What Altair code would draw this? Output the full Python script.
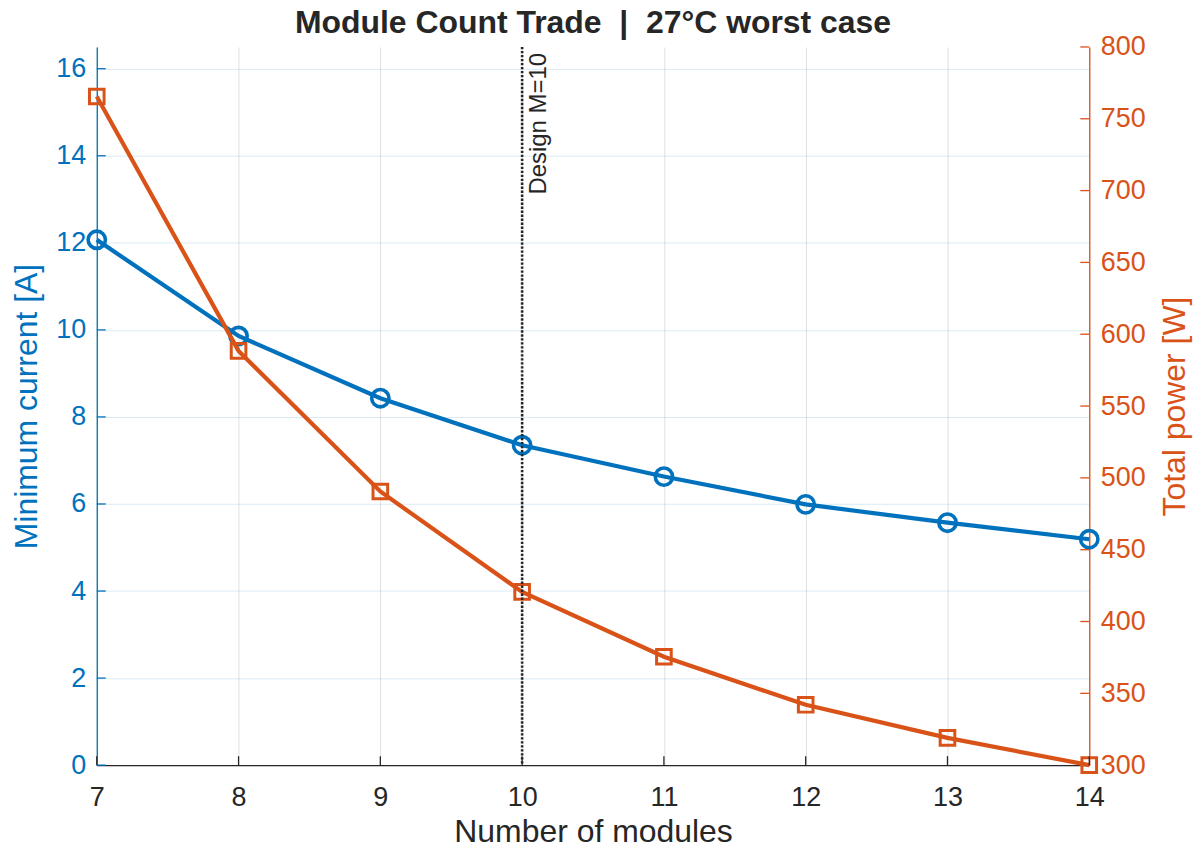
import altair as alt
import pandas as pd

# ---- data ----
modules = [7, 8, 9, 10, 11, 12, 13, 14]
min_current = [12.07, 9.86, 8.43, 7.35, 6.63, 5.99, 5.57, 5.19]
total_power = [765.5, 588.4, 490.5, 420.6, 375.5, 342.0, 319.0, 300.0]
x_ticks = [7, 8, 9, 10, 11, 12, 13, 14]
left_ticks = [0, 2, 4, 6, 8, 10, 12, 14, 16]
right_ticks = [300, 350, 400, 450, 500, 550, 600, 650, 700, 750, 800]
design_m = [10]
design_label = ["Design M=10"]

BLUE = "#0072BD"
ORANGE = "#D95319"
DARK = "#262626"
FONT = "Liberation Sans"
W, H = 995, 720
TICK = 9

df = pd.DataFrame({"M": modules, "I": min_current, "P": total_power})
xt_df = pd.DataFrame({"M": x_ticks})
lt_df = pd.DataFrame({"I": left_ticks})
rt_df = pd.DataFrame({"P": right_ticks})
dz_df = pd.DataFrame({"M": design_m, "label": design_label})

xscale = alt.Scale(domain=[7, 14], nice=False, zero=False)
lscale = alt.Scale(domain=[0, 16.5], nice=False, zero=False)
rscale = alt.Scale(domain=[300, 800], nice=False, zero=False)

xaxis = alt.Axis(
    values=x_ticks, title="Number of modules", format="d",
    grid=True, gridColor=DARK, gridOpacity=0.15, gridWidth=1,
    domainColor=DARK, domainWidth=1.3, ticks=False, tickSize=0,
    labelColor=DARK, labelFontSize=27, labelFont=FONT, labelPadding=19,
    labelFlush=False, labelOverlap=False,
    titleColor=DARK, titleFontSize=32, titleFont=FONT, titleFontWeight="normal",
    titlePadding=7,
)
laxis = alt.Axis(
    orient="left", values=left_ticks, title="Minimum current [A]", format="d",
    grid=True, gridColor=BLUE, gridOpacity=0.15, gridWidth=1,
    domainColor=BLUE, domainWidth=1.3, ticks=False, tickSize=0,
    labelColor=BLUE, labelFontSize=27, labelFont=FONT, labelPadding=11,
    labelFlush=False, labelOverlap=False,
    titleColor=BLUE, titleFontSize=32, titleFont=FONT, titleFontWeight="normal",
    titlePadding=12,
)
raxis = alt.Axis(
    orient="right", values=right_ticks, title="Total power [W]", format="d",
    grid=False,
    domainColor=ORANGE, domainWidth=1.3, ticks=False, tickSize=0,
    labelColor=ORANGE, labelFontSize=27, labelFont=FONT, labelPadding=11,
    labelFlush=False, labelOverlap=False,
    titleColor=ORANGE, titleFontSize=32, titleFont=FONT, titleFontWeight="normal",
    titleAngle=270, titleBaseline="top", titlePadding=14,
)

X = alt.X("M:Q", scale=xscale, axis=xaxis)
YL = alt.Y("I:Q", scale=lscale, axis=laxis)
YR = alt.Y("P:Q", scale=rscale, axis=raxis)

blue_line = alt.Chart(df).mark_line(color=BLUE, strokeWidth=4.2).encode(x=X, y=YL)
blue_pts = alt.Chart(df).mark_point(
    shape="circle", filled=False, size=300, strokeWidth=3.6, color=BLUE, opacity=1
).encode(x=X, y=YL)
left_tick_rules = alt.Chart(lt_df).mark_rule(color=BLUE, strokeWidth=1.3).encode(
    x=alt.value(0), x2=alt.value(TICK), y=YL
)
left = alt.layer(blue_line, blue_pts, left_tick_rules)

orange_line = alt.Chart(df).mark_line(color=ORANGE, strokeWidth=4.2).encode(x=X, y=YR)
orange_pts = alt.Chart(df).mark_point(
    shape="square", filled=False, size=215, strokeWidth=3, color=ORANGE, opacity=1
).encode(x=X, y=YR)
right_tick_rules = alt.Chart(rt_df).mark_rule(color=ORANGE, strokeWidth=1.3).encode(
    x=alt.value(W), x2=alt.value(W - TICK), y=YR
)
right = alt.layer(orange_line, orange_pts, right_tick_rules)

x_tick_rules = alt.Chart(xt_df).mark_rule(color=DARK, strokeWidth=1.3).encode(
    x=X, y=alt.value(H), y2=alt.value(H - TICK)
)
design_rule = alt.Chart(dz_df).mark_rule(
    color=DARK, strokeWidth=2.6, strokeDash=[2.4, 1.6]
).encode(x=X)
design_text = alt.Chart(dz_df).mark_text(
    angle=270, align="right", baseline="top", fontSize=24, font=FONT,
    color=DARK, dy=5
).encode(x=X, y=alt.value(6), text="label:N")
overlay = alt.layer(x_tick_rules, design_rule, design_text)

chart = (
    alt.layer(left, right, overlay)
    .resolve_scale(y="independent")
    .properties(
        width=W,
        height=H,
        title=alt.TitleParams(
            text="Module Count Trade \u00a0|\u00a0 27°C worst case",
            fontSize=32, font=FONT, fontWeight="bold", color=DARK,
            anchor="middle", frame="group", offset=-7,
        ),
        autosize=alt.AutoSizeParams(type="none"),
        padding={"left": 89, "top": 38, "right": 104, "bottom": 78},
    )
    .configure_view(stroke=None)
)

chart.save("out.html", embed_options={"renderer": "svg", "actions": False})
